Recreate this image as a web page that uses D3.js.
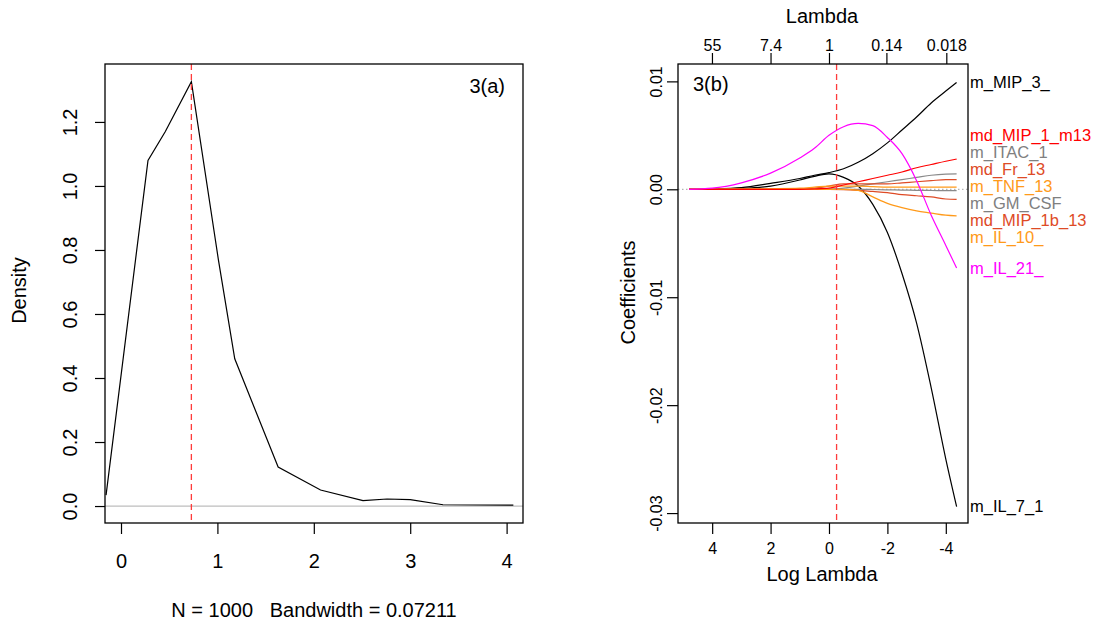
<!DOCTYPE html>
<html>
<head>
<meta charset="utf-8">
<script src="https://cdn.jsdelivr.net/npm/d3@7"></script>
<style>
  body { margin: 0; background: #fff; }
  svg { display: block; background: #fff; }
  text { font-family: "Liberation Sans", Arial, sans-serif; fill: #000; }
</style>
</head>
<body>
<svg id="chart" width="1096" height="627"></svg>
<script>
// ---------- 3(a): kernel density of the bootstrap estimates ----------
const densityX = [-0.155, 0.18, 0.28, 0.46, 0.73, 1.01, 1.18, 1.63, 2.07, 2.51, 2.76, 3.0, 3.34, 4.07];
const densityY = [0.034, 0.84, 1.08, 1.17, 1.326, 0.77, 0.46, 0.122, 0.05, 0.017, 0.022, 0.02, 0.004, 0.003];
const densityXTicks = [0, 1, 2, 3, 4];
const densityYTicks = [0, 0.2, 0.4, 0.6, 0.8, 1.0, 1.2];
const densityMode = 0.73;
const densityNote = "N = 1000   Bandwidth = 0.07211";

// ---------- 3(b): lasso coefficient paths ----------
const logLambda = [4.79, 4, 3, 2, 1, 0.5, 0, -0.5, -1, -1.5, -2, -2.5, -3, -3.5, -4, -4.37];
const coefMIP3     = [0, 0.00003, 0.00015, 0.00055, 0.001, 0.0013, 0.00155, 0.0019, 0.0025, 0.0033, 0.0043, 0.0055, 0.0067, 0.008, 0.0091, 0.0099];
const coefIL7      = [0, 0.00001, 0.00008, 0.0003, 0.00086, 0.0012, 0.00142, 0.0011, 0.0003, -0.0014, -0.004, -0.0078, -0.0124, -0.0184, -0.025, -0.0294];
const coefIL21     = [0, 0.0001, 0.0006, 0.0015, 0.0029, 0.0038, 0.005, 0.0058, 0.0061, 0.0059, 0.0048, 0.0033, 0.0008, -0.0024, -0.0052, -0.0073];
const coefMIP1m13  = [0, 0, 0, 0, 0, 0.00003, 0.0001, 0.0004, 0.0007, 0.001, 0.0013, 0.0016, 0.002, 0.0023, 0.0026, 0.0028];
const coefITAC1    = [0, 0, 0, 0, 0, 0, 0, 0.0001, 0.0003, 0.0005, 0.0007, 0.0009, 0.0011, 0.0013, 0.0014, 0.00142];
const coefFr13     = [0, 0, 0, 0, 0.00002, 0.0001, 0.0003, 0.0005, 0.0005, 0.0005, 0.0005, 0.0006, 0.0007, 0.0008, 0.0009, 0.0009];
const coefTNF13    = [0, 0, 0.00002, 0.00005, 0.0001, 0.0002, 0.0003, 0.0003, 0.0003, 0.00025, 0.0002, 0.0002, 0.0002, 0.0002, 0.0002, 0.0002];
const coefGMCSF    = [0, 0, 0, 0, 0, 0, 0, 0, 0, -0.00002, -0.00005, -0.00007, -0.0001, -0.00011, -0.00012, -0.00013];
const coefMIP1b13  = [0, 0, 0, 0, 0, 0, 0, -0.00003, -0.0001, -0.0002, -0.0003, -0.0005, -0.0006, -0.0007, -0.0009, -0.00093];
const coefIL10     = [0, 0, 0, 0, 0, 0, 0, 0, -0.0001, -0.0007, -0.0013, -0.0017, -0.002, -0.0022, -0.0024, -0.00247];
const coefNames = ["m_MIP_3_", "md_MIP_1_m13", "m_ITAC_1", "md_Fr_13", "m_TNF_13", "m_GM_CSF", "md_MIP_1b_13", "m_IL_10_", "m_IL_21_", "m_IL_7_1"];
const lambdaTicks = [55, 7.4, 1, 0.14, 0.018];
const logLambdaTicks = [4, 2, 0, -2, -4];
const coefTicks = [0.01, 0, -0.01, -0.02, -0.03];
const selectedLogLambda = -0.26;

// line colours per variable
const pathColor = {
  "m_MIP_3_": "#000000",
  "md_MIP_1_m13": "#ff0000",
  "m_ITAC_1": "#8a8a8a",
  "md_Fr_13": "#de4b26",
  "m_TNF_13": "#ff9a1a",
  "m_GM_CSF": "#8a8a8a",
  "md_MIP_1b_13": "#de4b26",
  "m_IL_10_": "#ff9a1a",
  "m_IL_21_": "#ff00ff",
  "m_IL_7_1": "#000000"
};
const coefValues = {
  "m_MIP_3_": coefMIP3, "md_MIP_1_m13": coefMIP1m13, "m_ITAC_1": coefITAC1,
  "md_Fr_13": coefFr13, "m_TNF_13": coefTNF13, "m_GM_CSF": coefGMCSF,
  "md_MIP_1b_13": coefMIP1b13, "m_IL_10_": coefIL10, "m_IL_21_": coefIL21,
  "m_IL_7_1": coefIL7
};

const svg = d3.select("#chart");
const fontFamily = '"Liberation Sans", Arial, sans-serif';

// ======================= left panel =======================
const A = { left: 105, right: 523, top: 64, bottom: 523 };
const xD = d3.scaleLinear().domain([-0.166, 4.17]).range([A.left, A.right]);
const yD = d3.scaleLinear().domain([-0.053, 1.381]).range([A.bottom, A.top]);

const gA = svg.append("g");

// zero reference
gA.append("line")
  .attr("x1", A.left).attr("x2", A.right)
  .attr("y1", yD(0)).attr("y2", yD(0))
  .attr("stroke", "#bebebe").attr("stroke-width", 1.2);

// density curve
gA.append("path")
  .datum(densityX.map((x, i) => [x, densityY[i]]))
  .attr("fill", "none").attr("stroke", "#000").attr("stroke-width", 1.2)
  .attr("d", d3.line().x(d => xD(d[0])).y(d => yD(d[1])));

// mode marker
gA.append("line")
  .attr("x1", xD(densityMode)).attr("x2", xD(densityMode))
  .attr("y1", A.top).attr("y2", A.bottom)
  .attr("stroke", "#ff3b3b").attr("stroke-width", 1.3)
  .attr("stroke-dasharray", "6,4");

// axes
const axA_x = gA.append("g").attr("transform", `translate(0,${A.bottom})`)
  .call(d3.axisBottom(xD).tickValues(densityXTicks).tickSize(11).tickSizeOuter(0).tickFormat(d3.format("d")));
axA_x.select(".domain").remove();
axA_x.selectAll("line").attr("stroke", "#000").attr("stroke-width", 1.2);
axA_x.selectAll("text").attr("y", 45).attr("dy", 0)
  .style("font-size", "20px").style("font-family", fontFamily).attr("fill", "#000");

const axA_y = gA.append("g").attr("transform", `translate(${A.left},0)`)
  .call(d3.axisLeft(yD).tickValues(densityYTicks).tickSize(10).tickSizeOuter(0).tickFormat(d3.format(".1f")));
axA_y.select(".domain").remove();
axA_y.selectAll("line").attr("stroke", "#000").attr("stroke-width", 1.2);
axA_y.selectAll("text")
  .attr("transform", "rotate(-90)")
  .attr("x", 0).attr("y", -28).attr("dy", 0)
  .attr("text-anchor", "middle")
  .style("font-size", "20px").style("font-family", fontFamily).attr("fill", "#000");

// frame
gA.append("rect")
  .attr("x", A.left).attr("y", A.top)
  .attr("width", A.right - A.left).attr("height", A.bottom - A.top)
  .attr("fill", "none").attr("stroke", "#000").attr("stroke-width", 1.3);

gA.append("text").attr("x", 505).attr("y", 93).attr("text-anchor", "end")
  .style("font-size", "20px").text("3(a)");
gA.append("text").attr("x", (A.left + A.right) / 2).attr("y", 617).attr("text-anchor", "middle")
  .style("font-size", "20px").style("white-space", "pre").attr("xml:space", "preserve").text(densityNote);
gA.append("text").attr("transform", `translate(26,${(A.top + A.bottom) / 2 - 3}) rotate(-90)`)
  .attr("text-anchor", "middle").style("font-size", "20px").text("Density");

// ======================= right panel =======================
const B = { left: 678, right: 968, top: 64, bottom: 523 };
const xR = d3.scaleLinear().domain([5.17, -4.76]).range([B.left, B.right]);
const yR = d3.scaleLinear().domain([-0.03092, 0.01161]).range([B.bottom, B.top]);

const gB = svg.append("g");

// zero reference (dotted)
gB.append("line")
  .attr("x1", B.left).attr("x2", B.right)
  .attr("y1", yR(0)).attr("y2", yR(0))
  .attr("stroke", "#b4b4b4").attr("stroke-width", 1.2)
  .attr("stroke-dasharray", "1.5,2.5");

// coefficient paths
const pathLine = d3.line().curve(d3.curveMonotoneX).x(d => xR(d[0])).y(d => yR(d[1]));
const drawOrder = ["m_IL_7_1", "m_MIP_3_", "m_GM_CSF", "m_ITAC_1", "md_MIP_1b_13", "md_Fr_13", "m_IL_10_", "m_TNF_13", "md_MIP_1_m13", "m_IL_21_"];
drawOrder.forEach(name => {
  gB.append("path")
    .datum(logLambda.map((x, i) => [x, coefValues[name][i]]))
    .attr("fill", "none")
    .attr("stroke", pathColor[name])
    .attr("stroke-width", 1.2)
    .attr("d", pathLine);
});

// selected lambda
gB.append("line")
  .attr("x1", xR(selectedLogLambda)).attr("x2", xR(selectedLogLambda))
  .attr("y1", B.top).attr("y2", B.bottom)
  .attr("stroke", "#ff3b3b").attr("stroke-width", 1.3)
  .attr("stroke-dasharray", "6,4");

// bottom axis: log lambda
const axB_x = gB.append("g").attr("transform", `translate(0,${B.bottom})`)
  .call(d3.axisBottom(xR).tickValues(logLambdaTicks).tickSize(11).tickSizeOuter(0).tickFormat(d3.format("d")));
axB_x.select(".domain").remove();
axB_x.selectAll("line").attr("stroke", "#000").attr("stroke-width", 1.2);
axB_x.selectAll("text").attr("y", 31).attr("dy", 0)
  .text(d => d < 0 ? "-" + Math.abs(d) : String(d))
  .style("font-size", "16px").style("font-family", fontFamily).attr("fill", "#000");

// top axis: lambda on its original scale
const axB_top = gB.append("g").attr("transform", `translate(0,${B.top})`)
  .call(d3.axisTop(xR).tickValues(lambdaTicks.map(v => Math.log(v))).tickSize(11).tickSizeOuter(0)
    .tickFormat((d, i) => String(lambdaTicks[i])));
axB_top.select(".domain").remove();
axB_top.selectAll("line").attr("stroke", "#000").attr("stroke-width", 1.2);
axB_top.selectAll("text").attr("y", -13.5).attr("dy", 0)
  .style("font-size", "16px").style("font-family", fontFamily).attr("fill", "#000");

// left axis: coefficients
const axB_y = gB.append("g").attr("transform", `translate(${B.left},0)`)
  .call(d3.axisLeft(yR).tickValues(coefTicks).tickSize(11).tickSizeOuter(0)
    .tickFormat(d => d < 0 ? "-" + d3.format(".2f")(Math.abs(d)) : d3.format(".2f")(d)));
axB_y.select(".domain").remove();
axB_y.selectAll("line").attr("stroke", "#000").attr("stroke-width", 1.2);
axB_y.selectAll("text")
  .attr("transform", "rotate(-90)")
  .attr("x", 0).attr("y", -16).attr("dy", 0)
  .attr("text-anchor", "middle")
  .style("font-size", "16px").style("font-family", fontFamily).attr("fill", "#000");

// frame
gB.append("rect")
  .attr("x", B.left).attr("y", B.top)
  .attr("width", B.right - B.left).attr("height", B.bottom - B.top)
  .attr("fill", "none").attr("stroke", "#000").attr("stroke-width", 1.3);

gB.append("text").attr("x", 693).attr("y", 91).style("font-size", "20px").text("3(b)");
gB.append("text").attr("x", 822).attr("y", 23).attr("text-anchor", "middle").style("font-size", "20px").text("Lambda");
gB.append("text").attr("x", 822).attr("y", 581).attr("text-anchor", "middle").style("font-size", "20px").text("Log Lambda");
gB.append("text").attr("transform", `translate(635,${(B.top + B.bottom) / 2 - 1}) rotate(-90)`)
  .attr("text-anchor", "middle").style("font-size", "20px").text("Coefficients");

// variable labels at the path ends, spread apart where they would collide
const labelGap = 17;
const lastIdx = logLambda.length - 1;
const ends = coefNames.map(n => ({ name: n, target: yR(coefValues[n][lastIdx]) }))
  .sort((a, b) => a.target - b.target);
let groups = ends.map(e => ({ items: [e] }));
const place = g => {
  const mean = d3.mean(g.items, d => d.target);
  g.start = mean - (g.items.length - 1) / 2 * labelGap;
  g.end = g.start + (g.items.length - 1) * labelGap;
};
groups.forEach(place);
let merged = true;
while (merged) {
  merged = false;
  for (let i = 0; i < groups.length - 1; i++) {
    if (groups[i].end + labelGap > groups[i + 1].start) {
      groups[i].items = groups[i].items.concat(groups[i + 1].items);
      groups.splice(i + 1, 1);
      place(groups[i]);
      merged = true;
      break;
    }
  }
}
groups.forEach(g => g.items.forEach((e, k) => { e.y = g.start + k * labelGap; }));

gB.selectAll("text.varlabel").data(ends).join("text")
  .attr("class", "varlabel")
  .attr("x", B.right + 2)
  .attr("y", d => d.y)
  .attr("dy", "0.35em")
  .style("font-size", "16.5px")
  .style("fill", d => pathColor[d.name] === "#8a8a8a" ? "#808080" : pathColor[d.name])
  .text(d => d.name);
</script>
</body>
</html>
